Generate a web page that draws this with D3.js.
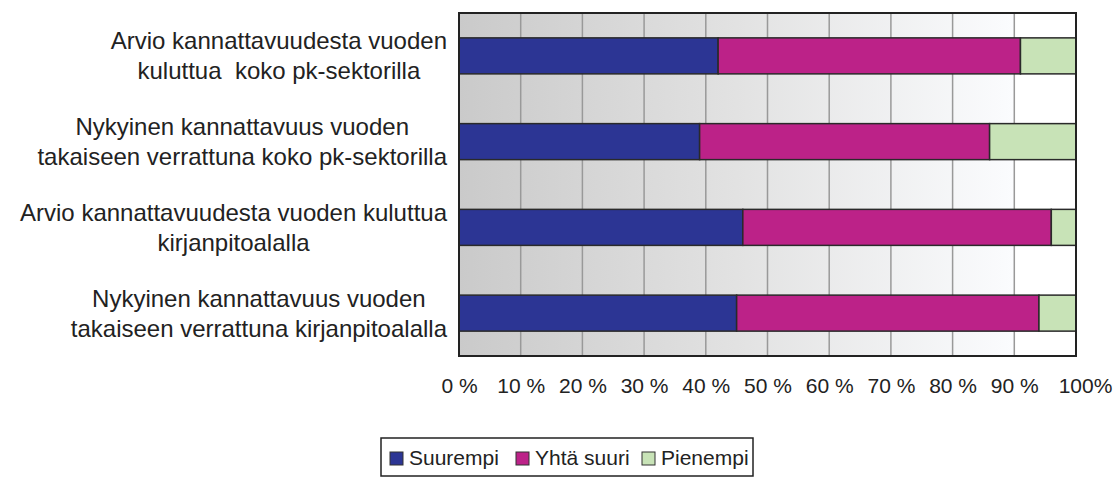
<!DOCTYPE html>
<meta charset="utf-8">
<script src="https://d3js.org/d3.v7.min.js"></script>
<style>
  body { margin: 0; background: #fff; }
  text { font-family: "Liberation Sans", Arial, sans-serif; fill: #222; white-space: pre; }
</style>
<div id="my_dataviz"></div>

<script>
    // data (percent shares per row)
    var categories = [
        ["Arvio kannattavuudesta vuoden", "kuluttua  koko pk-sektorilla"],
        ["Nykyinen kannattavuus vuoden", "takaiseen verrattuna koko pk-sektorilla"],
        ["Arvio kannattavuudesta vuoden kuluttua", "kirjanpitoalalla"],
        ["Nykyinen kannattavuus vuoden", "takaiseen verrattuna kirjanpitoalalla"]
    ];
    var suurempi  = [42, 39, 46, 45];
    var yhtaSuuri = [49, 47, 50, 49];
    var pienempi  = [9, 14, 4, 6];
    var seriesNames = ["Suurempi", "Yhtä suuri", "Pienempi"];
    var tickValues = [0, 10, 20, 30, 40, 50, 60, 70, 80, 90, 100];
    var tickLabels = ["0 %", "10 %", "20 %", "30 %", "40 %", "50 %", "60 %", "70 %", "80 %", "90 %", "100%"];

    var colors = ["#2c3594", "#bc2288", "#c8e3b7"];

    var width = 1115, height = 477;
    var plot = {left: 459, right: 1076, top: 13, bottom: 356};

    var svg = d3.select("#my_dataviz")
        .append("svg")
        .attr("width", width)
        .attr("height", height)
        .style("display", "block");

    // background gradient of the plot area
    var grad = svg.append("defs").append("linearGradient")
        .attr("id", "bg")
        .attr("x1", "0%").attr("x2", "100%").attr("y1", "0%").attr("y2", "0%");
    grad.append("stop").attr("offset", "0%").attr("stop-color", "#cacaca");
    grad.append("stop").attr("offset", "45%").attr("stop-color", "#e2e2e2");
    grad.append("stop").attr("offset", "90%").attr("stop-color", "#fbfcfe");
    grad.append("stop").attr("offset", "90%").attr("stop-color", "#ffffff");
    grad.append("stop").attr("offset", "100%").attr("stop-color", "#ffffff");

    var x = d3.scaleLinear()
        .domain([0, 100])
        .range([plot.left, plot.right]);

    var y = d3.scaleBand()
        .domain(d3.range(categories.length))
        .range([plot.top, plot.bottom])
        .paddingInner(0.58)
        .paddingOuter(0.29);

    svg.append("rect")
        .attr("x", plot.left)
        .attr("y", plot.top)
        .attr("width", plot.right - plot.left)
        .attr("height", plot.bottom - plot.top)
        .style("fill", "url(#bg)");

    // vertical gridlines
    svg.append("g")
        .selectAll("line")
        .data(tickValues.slice(1, -1))
        .enter()
        .append("line")
        .attr("x1", function (d) { return x(d); })
        .attr("x2", function (d) { return x(d); })
        .attr("y1", plot.top)
        .attr("y2", plot.bottom)
        .style("stroke", "#999")
        .style("stroke-width", 1.5);

    // stacked bars
    var rows = categories.map(function (c, i) {
        return {i: i, Suurempi: suurempi[i], "Yhtä suuri": yhtaSuuri[i], Pienempi: pienempi[i]};
    });
    var stacked = d3.stack().keys(seriesNames)(rows);

    svg.append("g")
        .selectAll("g")
        .data(stacked)
        .enter()
        .append("g")
        .style("fill", function (d, k) { return colors[k]; })
        .selectAll("rect")
        .data(function (d) { return d; })
        .enter()
        .append("rect")
        .attr("x", function (d) { return x(d[0]); })
        .attr("width", function (d) { return x(d[1]) - x(d[0]); })
        .attr("y", function (d) { return y(d.data.i); })
        .attr("height", y.bandwidth())
        .style("stroke", "#2a2a2a")
        .style("stroke-width", 1.5);

    // plot border
    svg.append("rect")
        .attr("x", plot.left)
        .attr("y", plot.top)
        .attr("width", plot.right - plot.left)
        .attr("height", plot.bottom - plot.top)
        .style("fill", "none")
        .style("stroke", "#222")
        .style("stroke-width", 2);

    // category labels, each block centred and pushed against the axis
    var labelRight = 447, lineGap = 30;
    categories.forEach(function (lines, i) {
        var cy = y(i) + y.bandwidth() / 2;
        var g = svg.append("g");
        var texts = g.selectAll("text")
            .data(lines)
            .enter()
            .append("text")
            .attr("y", function (d, j) { return cy + (j - (lines.length - 1) / 2) * lineGap; })
            .attr("dy", "0.35em")
            .style("font-size", "24px")
            .style("text-anchor", "middle")
            .text(function (d) { return d; });
        var maxW = d3.max(texts.nodes(), function (n) { return n.getComputedTextLength(); });
        texts.attr("x", labelRight - maxW / 2);
    });

    // x axis labels
    var xAxis = svg.append("g")
        .attr("transform", "translate(0," + (plot.bottom + 30) + ")")
        .call(d3.axisBottom(x)
            .tickValues(tickValues)
            .tickFormat(function (d, i) { return tickLabels[i]; })
            .tickSize(0));
    xAxis.select(".domain").remove();
    xAxis.selectAll("text")
        .attr("dy", "0.35em")
        .attr("y", 0)
        .style("font-size", "21px")
        .style("font-family", "Liberation Sans, Arial, sans-serif")
        .style("fill", "#222");
    xAxis.selectAll(".tick:last-of-type text").attr("dx", 9);

    // legend
    var legend = svg.append("g");
    legend.append("rect")
        .attr("x", 381).attr("y", 438)
        .attr("width", 372).attr("height", 38)
        .style("fill", "#fff")
        .style("stroke", "#222")
        .style("stroke-width", 1.5);
    var legendX = [390, 516, 642];
    seriesNames.forEach(function (name, k) {
        legend.append("rect")
            .attr("x", legendX[k]).attr("y", 452)
            .attr("width", 13).attr("height", 13)
            .style("fill", colors[k])
            .style("stroke", "#333")
            .style("stroke-width", 1);
        legend.append("text")
            .attr("x", legendX[k] + 19)
            .attr("y", 458)
            .attr("dy", "0.35em")
            .style("font-size", "21px")
            .text(name);
    });
</script>
